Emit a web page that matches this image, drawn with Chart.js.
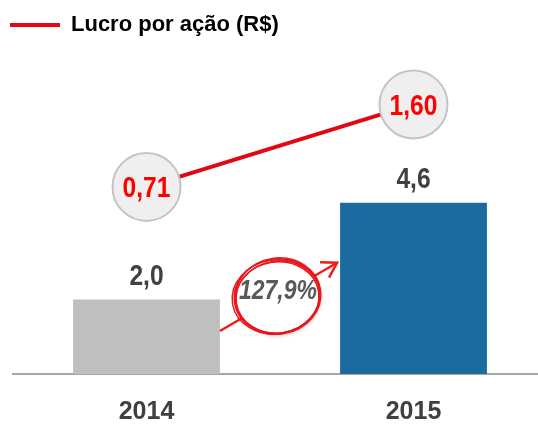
<!DOCTYPE html>
<html lang="pt-BR">
<head>
<meta charset="UTF-8">
<title>Lucro por ação</title>
<script src="https://cdn.jsdelivr.net/npm/chart.js"></script>
<style>
body { margin: 0; overflow: hidden; background: #fff; }
#wrap { width: 547px; height: 426px; }
</style>
</head>
<body>
<div id="wrap"><canvas id="chart"></canvas></div>
<script>
// data
const years = ['2014', '2015'];
const barValues = [2.0, 4.6];
const epsValues = [0.71, 1.60];
const epsLabel = 'Lucro por ação (R$)';
const growthText = '127,9%';

const FONT = '"Liberation Sans", Arial, sans-serif';
const RED = '#e30613';
const DARK = '#404040';
const NARROW = 0.82; // squeeze to look like Arial Narrow

const fmt = (v, d) => v.toFixed(d).replace('.', ',');

function narrowText(ctx, text, x, y) {
    ctx.save();
    ctx.translate(x, y);
    ctx.scale(NARROW, 1);
    ctx.fillText(text, 0, 0);
    ctx.restore();
}

// value labels + growth arrow
const labelsPlugin = {
    id: 'labels',
    afterDatasetsDraw(chart) {
        const ctx = chart.ctx;
        const bars = chart.getDatasetMeta(1).data;
        const points = chart.getDatasetMeta(0).data;
        ctx.save();
        ctx.textAlign = 'center';

        // growth arrow between the bars
        const b0 = bars[0], b1 = bars[1];
        const x0 = b0.x + b0.width / 2, x1 = b1.x - b1.width / 2;
        const sx = x0, sy = b0.base - 43;
        const ex = x1 - 3, ey = b1.y + 60;
        ctx.strokeStyle = '#f01c1c';
        ctx.lineWidth = 2.5;
        ctx.beginPath();
        ctx.moveTo(sx, sy);
        ctx.lineTo(ex, ey);
        ctx.stroke();
        const ang = Math.atan2(ey - sy, ex - sx);
        ctx.beginPath();
        ctx.moveTo(ex - 17 * Math.cos(ang - 0.55), ey - 17 * Math.sin(ang - 0.55));
        ctx.lineTo(ex, ey);
        ctx.lineTo(ex - 17 * Math.cos(ang + 0.55), ey - 17 * Math.sin(ang + 0.55));
        ctx.stroke();

        const cx = (x0 + x1) / 2 - 3, cy = b0.base - 78;
        ctx.save();
        ctx.shadowColor = 'rgba(0,0,0,0.3)';
        ctx.shadowBlur = 4;
        ctx.shadowOffsetX = 1;
        ctx.shadowOffsetY = 2;
        ctx.fillStyle = '#fff';
        ctx.beginPath();
        ctx.ellipse(cx, cy, 43, 37, -0.15, 0, Math.PI * 2);
        ctx.fill();
        ctx.restore();
        ctx.strokeStyle = '#e8161e';
        ctx.lineWidth = 1.4;
        [[0, 0, 43, 37], [1, 1, 42, 36], [-1, 1, 44, 37], [0, 2, 42, 36], [1, 0, 43, 38]].forEach(([dx, dy, rx, ry]) => {
            ctx.beginPath();
            ctx.ellipse(cx + dx, cy + dy, rx, ry, -0.15, 0, Math.PI * 2);
            ctx.stroke();
        });
        ctx.fillStyle = '#595959';
        ctx.font = 'italic bold 28px ' + FONT;
        ctx.textBaseline = 'middle';
        narrowText(ctx, growthText, cx + 1, cy - 5);

        // bar values
        ctx.fillStyle = DARK;
        ctx.font = 'bold 30px ' + FONT;
        ctx.textBaseline = 'alphabetic';
        bars.forEach((b, i) => narrowText(ctx, fmt(barValues[i], 1), b.x, b.y - 15));

        // eps values in circles
        ctx.fillStyle = '#ff0000';
        ctx.font = 'bold 30px ' + FONT;
        ctx.textBaseline = 'middle';
        points.forEach((p, i) => narrowText(ctx, fmt(epsValues[i], 2), p.x, p.y + 2));
        ctx.restore();
    }
};

const ctx = document.getElementById('chart').getContext('2d');
const chart = new Chart(ctx, {
    data: {
        labels: years,
        datasets: [
            {
                type: 'line',
                label: epsLabel,
                data: epsValues,
                yAxisID: 'y2',
                borderColor: RED,
                backgroundColor: RED,
                borderWidth: 4,
                pointRadius: 34,
                pointHoverRadius: 34,
                pointBackgroundColor: '#efefef',
                pointBorderColor: '#c4c4c4',
                pointBorderWidth: 2,
                order: 0
            },
            {
                type: 'bar',
                label: 'Valor',
                data: barValues,
                yAxisID: 'y',
                backgroundColor: ['#bfbfbf', '#1c6b9e'],
                categoryPercentage: 1,
                barPercentage: 0.55,
                order: 1
            }
        ]
    },
    options: {
        responsive: true,
        maintainAspectRatio: false,
        animation: false,
        layout: { autoPadding: false, padding: { top: 4, left: 0, right: 0, bottom: 0 } },
        plugins: {
            tooltip: { enabled: false },
            legend: {
                position: 'top',
                align: 'start',
                labels: {
                    boxWidth: 50,
                    boxHeight: 4,
                    padding: 10,
                    color: DARK,
                    font: { family: FONT, size: 22, weight: 'bold' },
                    generateLabels: c => [{
                        text: c.data.datasets[0].label,
                        fillStyle: RED,
                        strokeStyle: RED,
                        lineWidth: 0,
                        hidden: false,
                        datasetIndex: 0
                    }]
                }
            }
        },
        scales: {
            x: {
                offset: true,
                grid: { display: false, drawTicks: false },
                border: { display: true, color: '#a6a6a6', width: 2 },
                ticks: {
                    color: DARK,
                    padding: 23,
                    font: { family: FONT, size: 25, weight: 'bold' }
                },
                afterFit: s => { s.height = 52; }
            },
            y: {
                min: 0, max: 8.81,
                ticks: { display: false },
                grid: { display: false, drawTicks: false },
                border: { display: false },
                afterFit: s => { s.width = 13; }
            },
            y2: { display: false, min: -1.309, max: 2.23 }
        }
    },
    plugins: [labelsPlugin]
});
</script>
</body>
</html>
